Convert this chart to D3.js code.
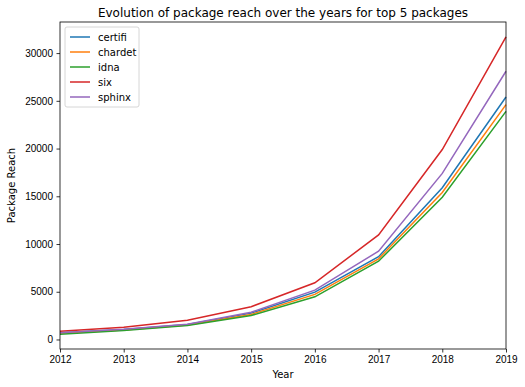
<!DOCTYPE html>
<html>
<head>
<meta charset="utf-8">
<script src="https://cdn.jsdelivr.net/npm/d3@7"></script>
<style>
  body { margin: 0; background: #fff; }
  svg { font-family: "DejaVu Sans", sans-serif; }
  .axis text { font-size: 10px; fill: #000; }
  .axis path, .axis line { stroke: #000; stroke-width: 0.8; }
</style>
</head>
<body>
<div id="chart"></div>
<script>
const years = [2012, 2013, 2014, 2015, 2016, 2017, 2018, 2019];
const certifi = [700, 1050, 1570, 2760, 4960, 8670, 15900, 25400];
const chardet = [640, 1000, 1520, 2620, 4720, 8450, 15400, 24600];
const idna = [560, 940, 1470, 2510, 4470, 8200, 14900, 23900];
const six = [870, 1290, 2020, 3430, 5940, 10950, 19900, 31700];
const sphinx = [700, 1070, 1600, 2860, 5170, 9250, 17400, 28100];
const names = ['certifi', 'chardet', 'idna', 'six', 'sphinx'];
const colors = ['#1f77b4', '#ff7f0e', '#2ca02c', '#d62728', '#9467bd'];
const yTicks = [0, 5000, 10000, 15000, 20000, 25000, 30000];

const series = [certifi, chardet, idna, six, sphinx].map((vals, i) => ({
  name: names[i], color: colors[i], values: vals.map((v, j) => ({year: years[j], v: v}))
}));

const width = 525, height = 387;
const margin = {top: 22, right: 19, bottom: 38, left: 60};

const svg = d3.select('#chart').append('svg')
  .attr('width', width)
  .attr('height', height);

const allVals = series.flatMap(s => s.values.map(d => d.v));
const lo = d3.min(allVals), hi = d3.max(allVals);
const pad = (hi - lo) * 0.05;

const x = d3.scaleLinear()
  .domain(d3.extent(years))
  .range([margin.left, width - margin.right]);

const y = d3.scaleLinear()
  .domain([lo - pad, hi + pad])
  .range([height - margin.bottom, margin.top]);

const line = d3.line()
  .x(d => x(d.year))
  .y(d => y(d.v));

svg.append('g')
  .selectAll('path')
  .data(series)
  .enter()
    .append('path')
    .attr('fill', 'none')
    .attr('stroke', d => d.color)
    .attr('stroke-width', 1.5)
    .attr('d', d => line(d.values));

// frame
svg.append('rect')
  .attr('x', margin.left)
  .attr('y', margin.top)
  .attr('width', width - margin.left - margin.right)
  .attr('height', height - margin.top - margin.bottom)
  .attr('fill', 'none')
  .attr('stroke', '#000')
  .attr('stroke-width', 0.8);

svg.append('g')
  .attr('class', 'axis')
  .attr('transform', `translate(0, ${height - margin.bottom})`)
  .call(d3.axisBottom(x).tickValues(years).tickFormat(d3.format('d')).tickSize(3.5).tickPadding(3.5))
  .call(g => g.select('.domain').remove());

svg.append('g')
  .attr('class', 'axis')
  .attr('transform', `translate(${margin.left}, 0)`)
  .call(d3.axisLeft(y).tickValues(yTicks).tickFormat(d3.format('d')).tickSize(3.5).tickPadding(3.5))
  .call(g => g.select('.domain').remove());

svg.append('text')
  .attr('x', (margin.left + width - margin.right) / 2)
  .attr('y', 17)
  .attr('text-anchor', 'middle')
  .style('font-size', '12px')
  .text('Evolution of package reach over the years for top 5 packages');

svg.append('text')
  .attr('x', (margin.left + width - margin.right) / 2)
  .attr('y', 378)
  .attr('text-anchor', 'middle')
  .style('font-size', '10px')
  .text('Year');

svg.append('text')
  .attr('transform', `translate(15, ${(margin.top + height - margin.bottom) / 2}) rotate(-90)`)
  .attr('text-anchor', 'middle')
  .style('font-size', '10px')
  .text('Package Reach');

// legend
const legend = svg.append('g')
  .attr('transform', `translate(${margin.left + 5}, ${margin.top + 5})`);

legend.append('rect')
  .attr('width', 74)
  .attr('height', 80)
  .attr('rx', 2)
  .attr('fill', '#fff')
  .attr('fill-opacity', 0.8)
  .attr('stroke', '#ccc')
  .attr('stroke-width', 0.8);

const item = legend.selectAll('.item')
  .data(series)
  .enter()
    .append('g')
    .attr('class', 'item')
    .attr('transform', (d, i) => `translate(0, ${10 + i * 15})`);

item.append('line')
  .attr('x1', 5).attr('x2', 25)
  .attr('stroke', d => d.color)
  .attr('stroke-width', 1.5);

item.append('text')
  .attr('x', 33)
  .attr('dy', '0.35em')
  .style('font-size', '10px')
  .text(d => d.name);
</script>
</body>
</html>
